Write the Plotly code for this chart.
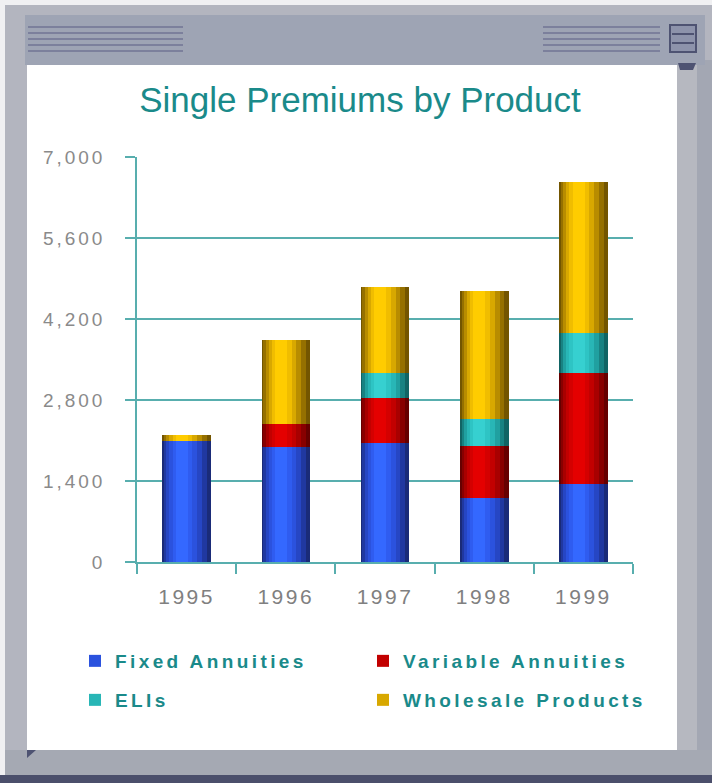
import plotly.graph_objects as go

# ---------------- data ----------------
years = ["1995", "1996", "1997", "1998", "1999"]
fixed_annuities = [2090, 1980, 2050, 1110, 1340]
variable_annuities = [0, 400, 790, 895, 1930]
elis = [0, 0, 430, 460, 690]
wholesale_products = [100, 1450, 1490, 2225, 2615]

series_names = ["Fixed Annuities", "Variable Annuities", "ELIs", "Wholesale Products"]
series_values = [fixed_annuities, variable_annuities, elis, wholesale_products]

y_tick_values = [0, 1400, 2800, 4200, 5600, 7000]
y_tick_labels = ["0", "1,400", "2,800", "4,200", "5,600", "7,000"]

# ---------------- styles ----------------
W, H = 712, 783
PL, PR, PT, PB = 137, 633, 157, 562  # plot area in pixels

# shading layers (edge -> highlight) to mimic cylindrical bars
shade_colors = [
    ["#1a2b78", "#2038a0", "#2646c4", "#2b52de", "#2f5cf0", "#3468ff"],
    ["#660000", "#880000", "#a80000", "#c20000", "#d40000", "#e40000"],
    ["#116464", "#188282", "#20a0a0", "#28b6b6", "#2ec4c4", "#36d0d0"],
    ["#735500", "#957000", "#b88c00", "#d8a800", "#f0bd00", "#ffcc00"],
]
layer_width = [0.49, 0.43, 0.36, 0.28, 0.20, 0.12]
layer_center = [0.0, -0.012, -0.024, -0.034, -0.042, -0.048]
legend_layer = 3

TEAL = "#1a8a8a"
GRID = "#58aeae"
GRAY = "#8a8a8a"


def sp(t, ls):
    return f'<span style="letter-spacing:{ls}px">{t}</span>'


fig = go.Figure()
for li in range(len(layer_width)):
    ax = "x" if li == 0 else f"x{li + 1}"
    for si, (name, vals) in enumerate(zip(series_names, series_values)):
        fig.add_trace(go.Bar(
            x=years, y=vals, name=sp(name, 3.4),
            xaxis=ax, yaxis="y",
            width=layer_width[li],
            offset=layer_center[li] - layer_width[li] / 2,
            marker=dict(color=shade_colors[si][li], line=dict(width=0)),
            showlegend=(li == legend_layer),
            legend="legend" if si < 2 else "legend2",
            hoverinfo="skip" if li != legend_layer else None,
        ))


def X(px):
    return (px - PL) / (PR - PL)


def Y(py):
    return (PB - py) / (PB - PT)


def rect(x0, y0, x1, y1, color, line=None, lw=0):
    return dict(type="rect", xref="paper", yref="paper",
                x0=X(x0), x1=X(x1), y0=Y(y1), y1=Y(y0),
                fillcolor=color, line=dict(width=lw, color=line or color),
                layer="below")


def hline(x0, x1, y, color, lw):
    return dict(type="line", xref="paper", yref="paper",
                x0=X(x0), x1=X(x1), y0=Y(y), y1=Y(y),
                line=dict(color=color, width=lw), layer="below")


def tri(pts, color):
    path = "M " + " L ".join(f"{X(a)},{Y(b)}" for a, b in pts) + " Z"
    return dict(type="path", xref="paper", yref="paper", path=path,
                fillcolor=color, line=dict(width=0), layer="below")


shapes = [
    rect(5, 5, 712, 783, "#b3b5bf"),
    rect(697, 60, 712, 775, "#a3a7b3"),
    rect(25, 15, 705, 65, "#9ea4b4"),
    rect(677, 65, 697, 750, "#b6b8c0"),
    rect(5, 750, 712, 775, "#a5a9b3"),
    rect(0, 775, 712, 783, "#4b4f6b"),
    rect(27, 65, 677, 750, "#ffffff"),
]
for yy in [27, 33, 39, 45, 51]:
    shapes.append(hline(28, 183, yy, "#7c809c", 2))
    shapes.append(hline(543, 660, yy, "#7c809c", 2))
shapes += [
    rect(670, 25, 696, 52, "#8d93ab", "#4e5372", 2),
    hline(672, 694, 34, "#4e5372", 2),
    hline(672, 694, 43, "#4e5372", 2),
    tri([(678, 63), (696, 63), (693, 70), (680, 70)], "#4e5372"),
    tri([(27, 750), (36, 750), (27, 758)], "#4e5372"),
]

layout_axes = {}
for li in range(1, len(layer_width)):
    layout_axes[f"xaxis{li + 1}"] = dict(matches="x", overlaying="x", visible=False,
                                       type="category")

legend_common = dict(orientation="h", xanchor="left", yanchor="top",
                     entrywidth=243, entrywidthmode="pixels",
                     bgcolor="rgba(0,0,0,0)", traceorder="normal",
                     font=dict(family="Liberation Sans, Arial", size=19, color=TEAL,
                               weight="bold"),
                     itemclick=False, itemdoubleclick=False)

fig.update_layout(
    width=W, height=H,
    margin=dict(l=PL, r=W - PR, t=PT, b=H - PB, pad=0),
    paper_bgcolor="#f0f0f2",
    plot_bgcolor="rgba(0,0,0,0)",
    barmode="stack",
    bargap=0.5,
    title=dict(text="Single Premiums by Product", x=360 / W, xanchor="center",
               xref="container", y=1 - 100 / H, yanchor="middle", yref="container",
               font=dict(family="Liberation Sans, Arial", size=35, color=TEAL)),
    xaxis=dict(type="category", categoryorder="array", categoryarray=years,
               tickmode="array", tickvals=years, ticktext=[sp(t, 2.5) for t in years],
               tickson="boundaries", ticks="outside", ticklen=10, tickwidth=1.5,
               tickcolor=GRID, showline=True, linecolor=GRID, linewidth=1.5,
               showgrid=False, range=[-0.5, 4.5],
               tickfont=dict(family="Liberation Sans, Arial", size=21, color="#808080"),
               ticklabelstandoff=15),
    yaxis=dict(range=[0, 7000], tickmode="array", tickvals=y_tick_values,
               ticktext=[sp(t, 3) for t in y_tick_labels],
               ticks="outside", ticklen=10, tickwidth=1.5, tickcolor=GRID,
               showline=True, linecolor=GRID, linewidth=1.5,
               showgrid=True, gridcolor=GRID, gridwidth=1.5, zeroline=False,
               tickfont=dict(family="Liberation Sans, Arial", size=19, color=GRAY),
               ticklabelstandoff=16),
    legend=dict(x=X(75), y=Y(642), **legend_common),
    legend2=dict(x=X(75), y=Y(681), **legend_common),
    shapes=shapes,
    showlegend=True,
    **layout_axes,
)

fig.write_html("out.html", config={"displayModeBar": False},
               post_script="document.body.style.margin='0';")
